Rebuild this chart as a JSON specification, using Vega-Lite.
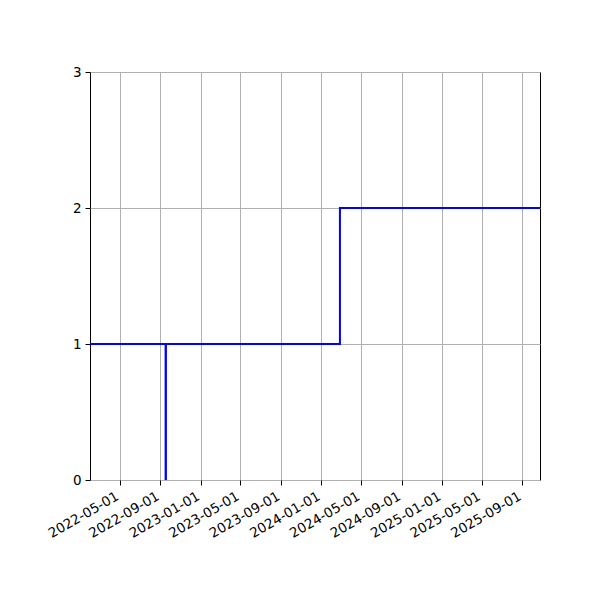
{
  "$schema": "https://vega.github.io/schema/vega-lite/v6.json",
  "width": 450,
  "height": 408,
  "autosize": {"type": "none"},
  "padding": {"left": 90, "top": 72, "right": 60, "bottom": 120},
  "background": "white",
  "config": {
    "font": "DejaVu Sans",
    "view": {"stroke": "black", "strokeWidth": 1},
    "axis": {
      "domain": false,
      "grid": true,
      "gridColor": "#b0b0b0",
      "gridWidth": 1,
      "tickColor": "black",
      "tickSize": 5,
      "tickWidth": 1,
      "labelColor": "black",
      "labelFont": "DejaVu Sans",
      "labelFontSize": 13.5,
      "labelPadding": 4,
      "title": null
    }
  },
  "data": {
    "values": [
      {"date": "2022-01-31", "value": 1},
      {"date": "2022-09-17", "value": 0},
      {"date": "2022-09-18", "value": 1},
      {"date": "2024-02-27", "value": 2},
      {"date": "2025-10-25", "value": 2}
    ]
  },
  "mark": {"type": "line", "interpolate": "step-after", "color": "#0000ff", "strokeWidth": 2, "clip": true},
  "encoding": {
    "x": {
      "field": "date",
      "type": "temporal",
      "scale": {
        "type": "utc",
        "domain": [
          {"year": 2022, "month": 1, "date": 31, "utc": true},
          {"year": 2025, "month": 10, "date": 25, "utc": true}
        ]
      },
      "axis": {
        "values": [
          {"year": 2022, "month": 5, "date": 1, "utc": true},
          {"year": 2022, "month": 9, "date": 1, "utc": true},
          {"year": 2023, "month": 1, "date": 1, "utc": true},
          {"year": 2023, "month": 5, "date": 1, "utc": true},
          {"year": 2023, "month": 9, "date": 1, "utc": true},
          {"year": 2024, "month": 1, "date": 1, "utc": true},
          {"year": 2024, "month": 5, "date": 1, "utc": true},
          {"year": 2024, "month": 9, "date": 1, "utc": true},
          {"year": 2025, "month": 1, "date": 1, "utc": true},
          {"year": 2025, "month": 5, "date": 1, "utc": true},
          {"year": 2025, "month": 9, "date": 1, "utc": true}
        ],
        "labelExpr": "utcFormat(datum.value, '%Y-%m-%d')",
        "labelAngle": -30,
        "labelAlign": "right",
        "labelBaseline": "top",
        "labelOffset": -6,
        "labelOverlap": false
      }
    },
    "y": {
      "field": "value",
      "type": "quantitative",
      "scale": {"domain": [0, 3], "nice": false, "zero": false},
      "axis": {"values": [0, 1, 2, 3], "format": "d"}
    }
  }
}
